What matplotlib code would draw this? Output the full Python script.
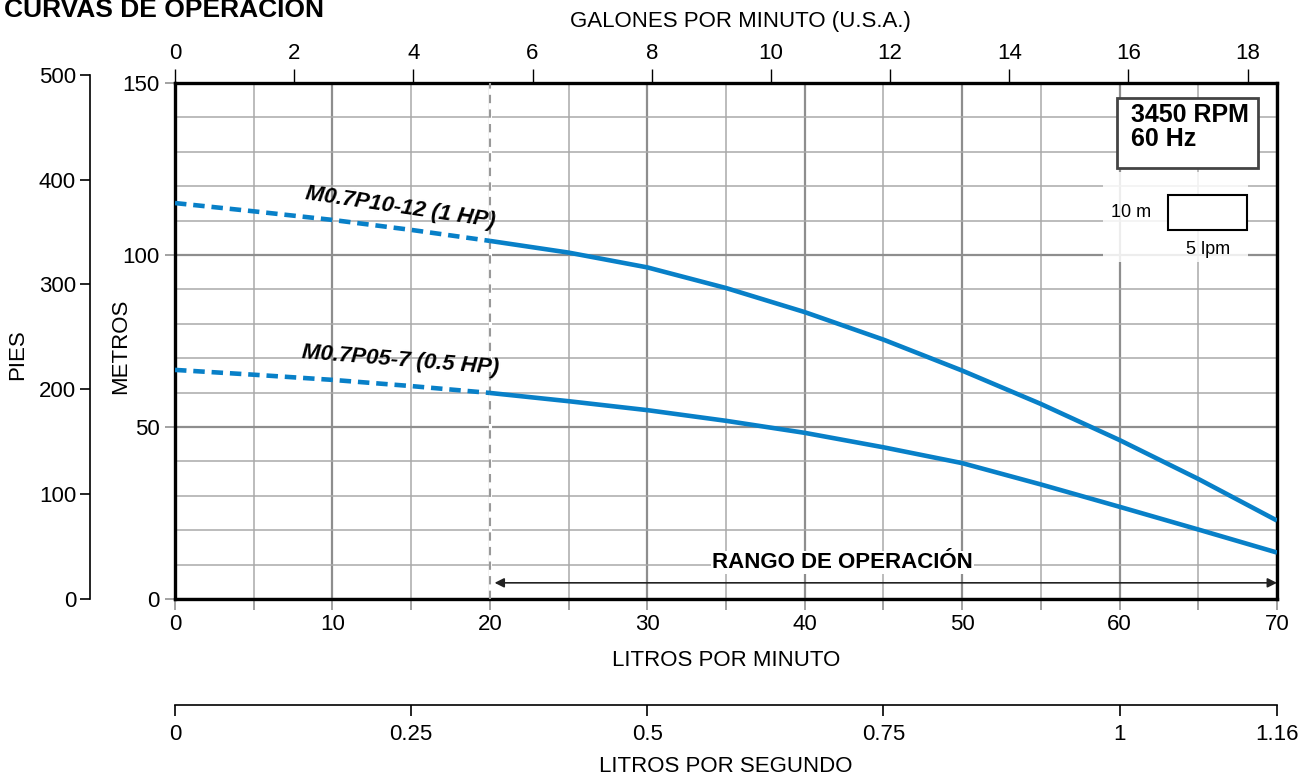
import matplotlib
matplotlib.use('Agg')
import matplotlib.pyplot as plt
from matplotlib.ticker import MultipleLocator, FixedLocator, FixedFormatter
from matplotlib.patches import Rectangle

plt.rcParams['font.family'] = ['Liberation Sans', 'DejaVu Sans']

# ---- data ----
lpm_dash = [0, 5, 10, 15, 20]
lpm_solid = [20, 25, 30, 35, 40, 45, 50, 55, 60, 65, 70]
hp1_dash = [115.1, 112.7, 110.2, 107.3, 104.1]
hp1_solid = [104.1, 100.7, 96.4, 90.4, 83.4, 75.4, 66.4, 56.7, 46.2, 34.9, 22.8]
hp05_dash = [66.6, 65.2, 63.7, 61.9, 59.9]
hp05_solid = [59.9, 57.5, 54.9, 51.8, 48.3, 44.1, 39.5, 33.3, 26.8, 20.2, 13.5]
curve_names = ['M0.7P10-12 (1 HP)', 'M0.7P05-7 (0.5 HP)']

x_ticks = [0, 10, 20, 30, 40, 50, 60, 70]
y_ticks = [0, 50, 100, 150]
gpm_ticks = [0, 2, 4, 6, 8, 10, 12, 14, 16, 18]
ft_ticks = [0, 100, 200, 300, 400, 500]
lps_ticks = [0, 0.25, 0.5, 0.75, 1, 70 / 60]
lps_labels = ['0', '0.25', '0.5', '0.75', '1', '1.16']
op_range = [20, 70]

BLUE = '#0880c8'
GRID = '#9b9b9b'
W, H = 1303, 782
FS = 16

fig = plt.figure(figsize=(W / 100, H / 100), dpi=100)


def rect_px(x0, y0, x1, y1):
    return [x0 / W, 1 - y1 / H, (x1 - x0) / W, (y1 - y0) / H]


ax = fig.add_axes(rect_px(175, 83, 1277, 599))
ax.set_xlim(0, 70)
ax.set_ylim(0, 150)
ax.xaxis.set_major_locator(FixedLocator(x_ticks))
ax.xaxis.set_minor_locator(MultipleLocator(5))
ax.yaxis.set_major_locator(FixedLocator(y_ticks))
ax.yaxis.set_minor_locator(MultipleLocator(10))
ax.grid(which='major', color='#8e8e8e', lw=1.6)
ax.grid(which='minor', color='#a9a9a9', lw=1.1)
ax.set_axisbelow(True)
for s in ax.spines.values():
    s.set_linewidth(2.4)
    s.set_color('black')
ax.tick_params(which='both', direction='out', color=GRID, labelsize=FS, width=1.3)
ax.tick_params(axis='x', which='both', length=8, pad=3)
ax.tick_params(axis='y', which='major', length=7, pad=4)
ax.tick_params(axis='y', which='minor', length=0)

# curves
for xs, ys in [(lpm_dash, hp1_dash), (lpm_dash, hp05_dash)]:
    ax.plot(xs, ys, color=BLUE, lw=3.3, ls=(0, (2.5, 1.5)), solid_capstyle='butt', zorder=4)
for xs, ys in [(lpm_solid, hp1_solid), (lpm_solid, hp05_solid)]:
    ax.plot(xs, ys, color=BLUE, lw=3.3, zorder=4, solid_capstyle='butt', solid_joinstyle='round')

# start of operating range (dashed, replaces grid line)
ax.axvline(op_range[0], color='white', lw=2.2, zorder=2)
ax.axvline(op_range[0], color='#999999', lw=1.5, ls=(0, (4, 3)), zorder=3)

# curve labels
ax.text(14.3, 113.9, curve_names[0], rotation=-8.4, rotation_mode='anchor', ha='center', va='center',
        fontsize=16, fontweight='bold', fontstyle='italic', zorder=5)
ax.text(14.3, 69.3, curve_names[1], rotation=-4.6, rotation_mode='anchor', ha='center', va='center',
        fontsize=16, fontweight='bold', fontstyle='italic', zorder=5)

# operating range
ax.annotate('', xy=(op_range[1], 4.7), xytext=(op_range[0] + 0.3, 4.7),
            arrowprops=dict(arrowstyle='<|-|>', color='#222222', lw=1.2, mutation_scale=14,
                            shrinkA=0, shrinkB=0), zorder=5)
ax.text(42.4, 10.6, 'RANGO DE OPERACIÓN', ha='center', va='center', fontsize=FS, fontweight='bold',
        zorder=5, bbox=dict(boxstyle='square,pad=0.05', fc='white', ec='none'))

# RPM box
ax.add_patch(Rectangle((0.8548, 0.8353), 0.128, 0.1357, transform=ax.transAxes, fc='white',
                       ec='#444444', lw=2, zorder=6))
ax.text(0.8675, 0.962, '3450 RPM\n60 Hz', transform=ax.transAxes, ha='left', va='top', fontsize=18,
        fontweight='bold', linespacing=1.0, zorder=7)

# scale box
ax.add_patch(Rectangle((0.842, 0.653), 0.1316, 0.1744, transform=ax.transAxes, fc='white',
                       ec='none', alpha=0.85, zorder=3))
ax.add_patch(Rectangle((63.1, 107.3), 5, 10, fc='white', ec='black', lw=1.5, zorder=6))
ax.text(60.7, 112.4, '10 m', ha='center', va='center', fontsize=13, zorder=7)
ax.text(65.6, 101.7, '5 lpm', ha='center', va='center', fontsize=13, zorder=7)

# top axis: gallons per minute
top = ax.secondary_xaxis('top', functions=(lambda x: x / 3.78541, lambda g: g * 3.78541))
top.xaxis.set_major_locator(FixedLocator(gpm_ticks))
top.tick_params(direction='out', length=10, width=1, color='black', labelsize=FS, pad=4)
top.spines['top'].set_visible(False)

# bottom axis: litres per second
bot = ax.secondary_xaxis(-106 / 516, functions=(lambda x: x / 60, lambda s: s * 60))
bot.xaxis.set_major_locator(FixedLocator(lps_ticks))
bot.xaxis.set_major_formatter(FixedFormatter(lps_labels))
bot.tick_params(direction='out', length=8, width=1.2, color='black', labelsize=FS, pad=6)
bot.spines['bottom'].set_linewidth(1.2)

# feet axis
axf = fig.add_axes(rect_px(90, 74.7, 91, 599))
axf.set_ylim(0, 500)
axf.set_xticks([])
axf.yaxis.set_major_locator(FixedLocator(ft_ticks))
for k in ['top', 'right', 'bottom']:
    axf.spines[k].set_visible(False)
axf.spines['left'].set_linewidth(1.2)
axf.patch.set_visible(False)
axf.tick_params(axis='y', direction='out', length=7, width=1.2, labelsize=FS, pad=3)

# labels
fig.text(4 / W, 1 - 17 / H, 'CURVAS DE OPERACIÓN', fontsize=19, fontweight='bold', va='baseline', ha='left')
fig.text(740 / W, 1 - 21 / H, 'GALONES POR MINUTO (U.S.A.)', fontsize=FS, ha='center', va='center')
fig.text(726 / W, 1 - 661 / H, 'LITROS POR MINUTO', fontsize=FS, ha='center', va='center')
fig.text(726 / W, 1 - 766 / H, 'LITROS POR SEGUNDO', fontsize=FS, ha='center', va='center')
fig.text(18 / W, 1 - 355 / H, 'PIES', fontsize=FS, rotation=90, ha='center', va='center')
fig.text(121 / W, 1 - 346 / H, 'METROS', fontsize=FS, rotation=90, ha='center', va='center')

fig.savefig('out.png', dpi=100)
